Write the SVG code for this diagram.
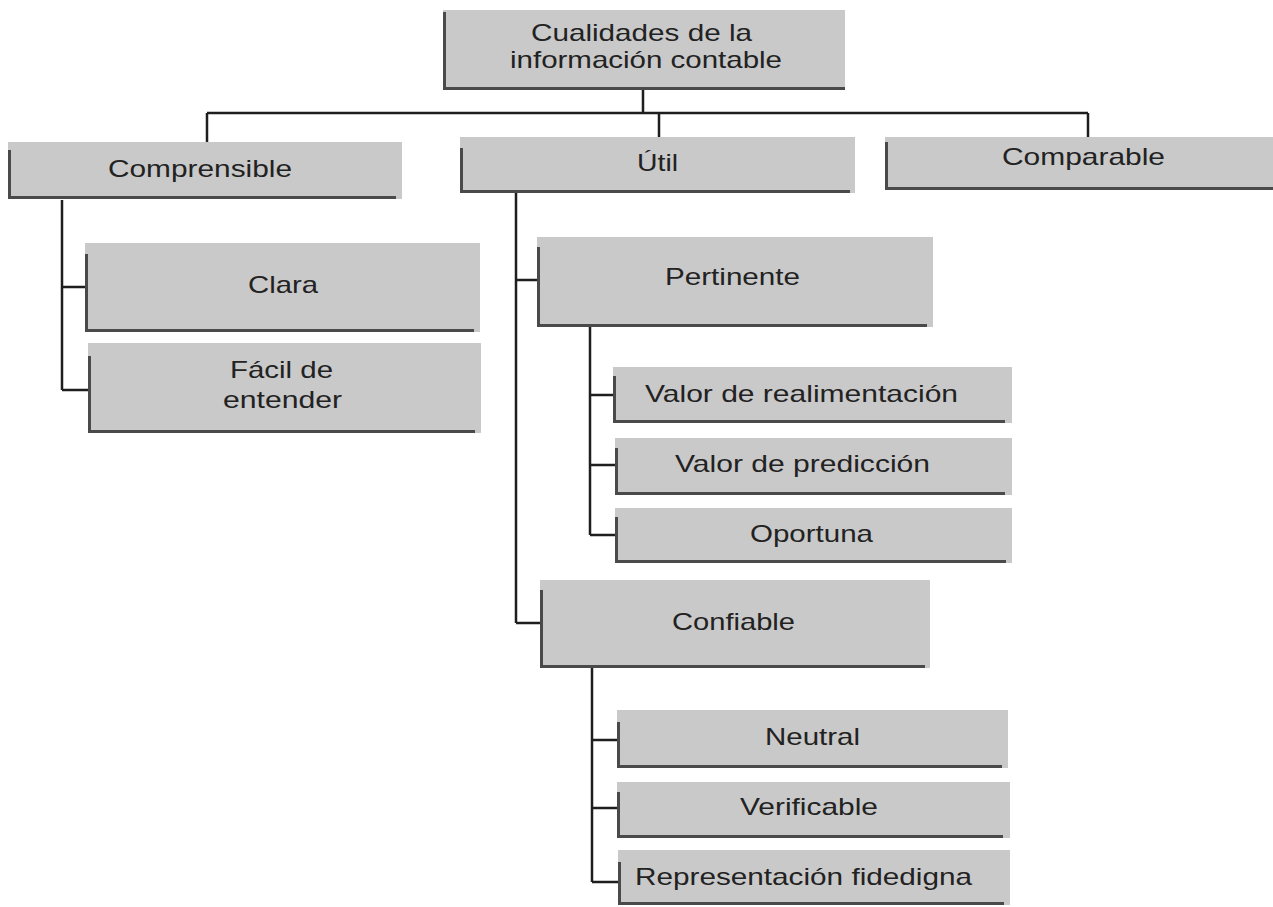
<svg xmlns="http://www.w3.org/2000/svg" width="1273" height="907" viewBox="0 0 1273 907">
<style>
.box{fill:#c9c9c9;}
.edge{stroke:#4a4a4a;stroke-width:3;fill:none;}
.lbl{font-family:"Liberation Sans",Arial,sans-serif;font-size:24px;fill:#222;text-anchor:middle;}
.conn{stroke:#1e1e1e;stroke-width:2.5;fill:none;}
</style>
<rect width="1273" height="907" fill="#ffffff"/>
<g id="connectors">
<path class="conn" d="M643 90 V113 M207 113 H1088 M207 113 V142 M659 113 V137 M1088 113 V137"/>
<path class="conn" d="M62 200 V390 M62 287 H85 M62 390 H88"/>
<path class="conn" d="M516 193 V623 M516 280 H537 M516 623 H540"/>
<path class="conn" d="M590 327 V535 M590 395 H613 M590 465 H615 M590 535 H615"/>
<path class="conn" d="M592 668 V882 M592 740 H617 M592 808 H617 M592 882 H618"/>
</g>
<g id="n-root">
<rect class="box" x="443" y="10" width="402" height="80"/>
<path class="edge" d="M444.5 12 V90 M443 88.5 H845"/>
<text class="lbl" x="641.5" y="41" textLength="221" lengthAdjust="spacingAndGlyphs">Cualidades de la</text>
<text class="lbl" x="646" y="68" textLength="272" lengthAdjust="spacingAndGlyphs">información contable</text>
</g>
<g id="n-comprensible">
<rect class="box" x="8" y="142" width="394" height="57"/>
<path class="edge" d="M9.5 150 V199 M8 197.5 H396"/>
<text class="lbl" x="200" y="177" textLength="184" lengthAdjust="spacingAndGlyphs">Comprensible</text>
</g>
<g id="n-util">
<rect class="box" x="460" y="137" width="395" height="56"/>
<path class="edge" d="M461.5 148 V193 M460 191.5 H850"/>
<text class="lbl" x="657.5" y="171" textLength="41" lengthAdjust="spacingAndGlyphs">Útil</text>
</g>
<g id="n-comparable">
<rect class="box" x="885" y="137" width="388" height="53"/>
<path class="edge" d="M886.5 142 V190 M885 188.5 H1273"/>
<text class="lbl" x="1083.5" y="165" textLength="163" lengthAdjust="spacingAndGlyphs">Comparable</text>
</g>
<g id="n-clara">
<rect class="box" x="85" y="243" width="395" height="89"/>
<path class="edge" d="M86.5 254 V332 M85 330.5 H474"/>
<text class="lbl" x="283" y="293" textLength="70" lengthAdjust="spacingAndGlyphs">Clara</text>
</g>
<g id="n-facil">
<rect class="box" x="88" y="343" width="393" height="90"/>
<path class="edge" d="M89.5 356 V433 M88 431.5 H475"/>
<text class="lbl" x="281.5" y="378" textLength="103" lengthAdjust="spacingAndGlyphs">Fácil de</text>
<text class="lbl" x="282.5" y="408" textLength="119" lengthAdjust="spacingAndGlyphs">entender</text>
</g>
<g id="n-pertinente">
<rect class="box" x="537" y="237" width="396" height="90"/>
<path class="edge" d="M538.5 247 V327 M537 325.5 H927"/>
<text class="lbl" x="732.5" y="285" textLength="135" lengthAdjust="spacingAndGlyphs">Pertinente</text>
</g>
<g id="n-realimentacion">
<rect class="box" x="613" y="367" width="399" height="56"/>
<path class="edge" d="M614.5 376 V423 M613 421.5 H1005"/>
<text class="lbl" x="801.5" y="402" textLength="313" lengthAdjust="spacingAndGlyphs">Valor de realimentación</text>
</g>
<g id="n-prediccion">
<rect class="box" x="615" y="438" width="397" height="57"/>
<path class="edge" d="M616.5 448 V495 M615 493.5 H1005"/>
<text class="lbl" x="802.5" y="472" textLength="255" lengthAdjust="spacingAndGlyphs">Valor de predicción</text>
</g>
<g id="n-oportuna">
<rect class="box" x="615" y="508" width="397" height="55"/>
<path class="edge" d="M616.5 517 V563 M615 561.5 H1006"/>
<text class="lbl" x="811.5" y="542" textLength="123" lengthAdjust="spacingAndGlyphs">Oportuna</text>
</g>
<g id="n-confiable">
<rect class="box" x="540" y="580" width="390" height="88"/>
<path class="edge" d="M541.5 590 V668 M540 666.5 H925"/>
<text class="lbl" x="733.5" y="630" textLength="123" lengthAdjust="spacingAndGlyphs">Confiable</text>
</g>
<g id="n-neutral">
<rect class="box" x="617" y="710" width="391" height="58"/>
<path class="edge" d="M618.5 722 V768 M617 766.5 H1002"/>
<text class="lbl" x="812.5" y="745" textLength="95" lengthAdjust="spacingAndGlyphs">Neutral</text>
</g>
<g id="n-verificable">
<rect class="box" x="617" y="782" width="393" height="56"/>
<path class="edge" d="M618.5 792 V838 M617 836.5 H1003"/>
<text class="lbl" x="809" y="815" textLength="138" lengthAdjust="spacingAndGlyphs">Verificable</text>
</g>
<g id="n-representacion">
<rect class="box" x="618" y="850" width="392" height="55"/>
<path class="edge" d="M619.5 862 V905 M618 903.5 H1004"/>
<text class="lbl" x="803.5" y="885" textLength="337" lengthAdjust="spacingAndGlyphs">Representación fidedigna</text>
</g>
</svg>
